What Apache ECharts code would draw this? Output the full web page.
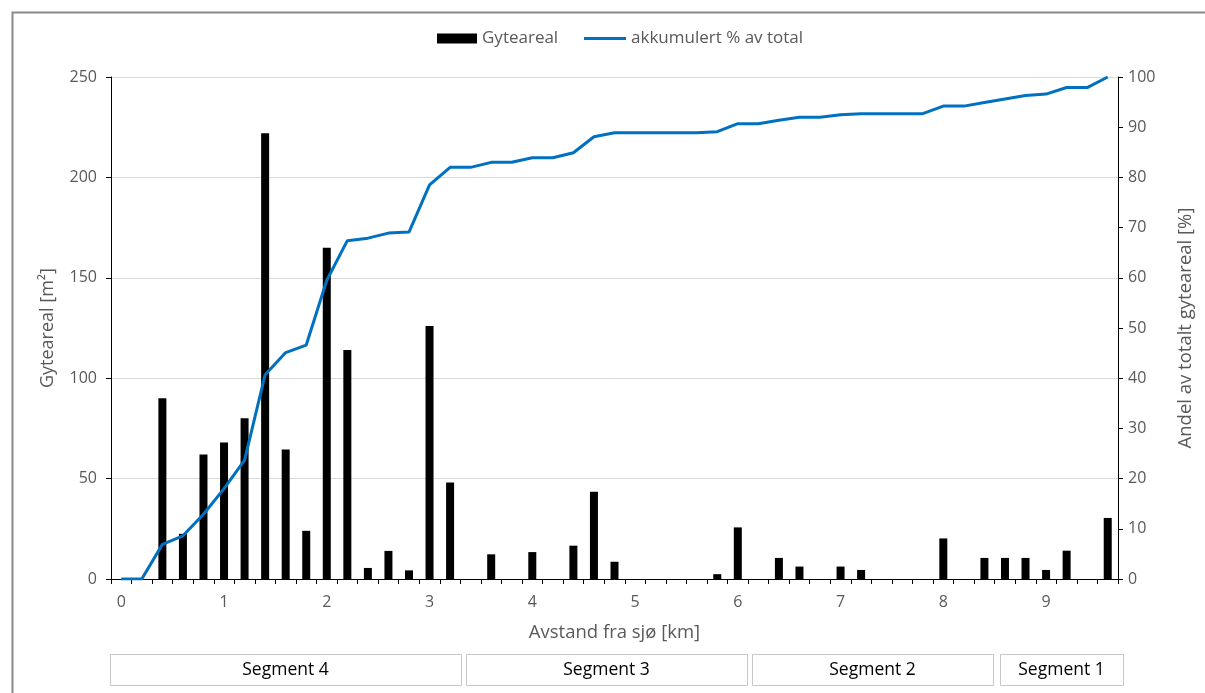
<!DOCTYPE html>
<html>
<head>
<meta charset="utf-8">
<script src="https://cdn.jsdelivr.net/npm/echarts@6/dist/echarts.min.js"></script>
<style>
html,body{margin:0;padding:0;background:#fff;}
#chart{width:1205px;height:693px;}
</style>
</head>
<body>
<div id="chart"></div>
<script>
const categories = ['0','0.2','0.4','0.6','0.8','1','1.2','1.4','1.6','1.8',
  '2','2.2','2.4','2.6','2.8','3','3.2','3.4','3.6','3.8',
  '4','4.2','4.4','4.6','4.8','5','5.2','5.4','5.6','5.8',
  '6','6.2','6.4','6.6','6.8','7','7.2','7.4','7.6','7.8',
  '8','8.2','8.4','8.6','8.8','9','9.2','9.4','9.6'];
const gyteareal = [0, 0, 90, 22.5, 62,
  68, 80, 222, 64.5, 24,
  165, 114, 5.5, 14, 4.3,
  126, 48, 0, 12.3, 0,
  13.4, 0, 16.6, 43.4, 8.6,
  0, 0, 0, 0, 2.4,
  25.7, 0, 10.5, 6.2, 0,
  6.2, 4.5, 0, 0, 0,
  20.2, 0, 10.5, 10.5, 10.5,
  4.5, 14.1, 0, 30.4];
const akkumulert = [0, 0, 6.9, 8.6, 12.9,
  18.0, 23.7, 40.7, 45.1, 46.6,
  59.5, 67.4, 67.9, 68.9, 69.1,
  78.5, 82.0, 82.0, 83.0, 83.0,
  83.9, 83.9, 84.9, 88.1, 88.9,
  88.9, 88.9, 88.9, 88.9, 89.1,
  90.7, 90.7, 91.4, 92.0, 92.0,
  92.5, 92.7, 92.7, 92.7, 92.7,
  94.2, 94.2, 94.9, 95.6, 96.3,
  96.6, 97.9, 97.9, 100];
const segmentNames = ['Segment 4', 'Segment 3', 'Segment 2', 'Segment 1'];
const seriesNames = ['Gyteareal', 'akkumulert % av total'];
const leftAxisName = 'Gyteareal [m²]';
const rightAxisName = 'Andel av totalt gyteareal [%]';
const xAxisName = 'Avstand fra sjø [km]';

const FONT = 'Open Sans';
const GREY = '#595959';
const segBoxes = [[110, 351], [466, 281], [752, 241], [1000, 123]];

const chart = echarts.init(document.getElementById('chart'), null, {renderer: 'canvas'});
const graphics = [{
  type: 'rect', left: 10, top: 10, silent: true,
  shape: {x: 0, y: 0, width: 1210, height: 700},
  style: {fill: 'none', stroke: '#8a8a8a', lineWidth: 2}
}];
segmentNames.forEach((n, i) => {
  const [x, w] = segBoxes[i];
  graphics.push({
    type: 'rect', silent: true,
    shape: {x: x + 0.5, y: 654.5, width: w, height: 31},
    style: {fill: '#fff', stroke: '#c8c8c8', lineWidth: 1}
  });
  graphics.push({
    type: 'text', silent: true,
    x: x + w / 2, y: 670,
    style: {text: n, fill: '#000', font: '17.5px "' + FONT + '"', align: 'center', verticalAlign: 'middle'}
  });
});

const legendText = {color: GREY, fontSize: 17, fontFamily: FONT};
chart.setOption({
  animation: false,
  backgroundColor: '#fff',
  textStyle: {fontFamily: FONT},
  legend: [{
    top: 25, left: 432,
    itemWidth: 40, itemHeight: 10,
    textStyle: legendText,
    data: [{name: seriesNames[0], icon: 'rect'}]
  }, {
    top: 25, left: 579,
    itemWidth: 42, itemHeight: 3,
    textStyle: legendText,
    data: [{name: seriesNames[1], icon: 'rect'}]
  }],
  grid: {left: 111, right: 87, top: 77, bottom: 114, containLabel: false},
  xAxis: {
    type: 'category',
    data: categories,
    boundaryGap: true,
    name: xAxisName,
    nameLocation: 'middle',
    nameGap: 44,
    nameTextStyle: {color: GREY, fontSize: 18.5, fontFamily: FONT},
    axisLine: {lineStyle: {color: '#000', width: 1}},
    axisTick: {show: true, interval: 0, length: 5, lineStyle: {color: '#000'}},
    axisLabel: {
      interval: (i) => i % 5 === 0,
      color: GREY, fontSize: 16, margin: 15, fontFamily: FONT,
      formatter: (v) => String(Math.round(parseFloat(v)))
    },
    splitLine: {show: false}
  },
  yAxis: [{
    type: 'value', min: 0, max: 250, interval: 50,
    name: leftAxisName, nameLocation: 'middle', nameGap: 54,
    nameRotate: 90,
    nameTextStyle: {color: GREY, fontSize: 18, fontFamily: FONT},
    axisLine: {show: true, lineStyle: {color: '#000'}},
    axisTick: {show: true, length: 5, lineStyle: {color: '#000'}},
    axisLabel: {color: GREY, fontSize: 16, margin: 14, fontFamily: FONT},
    splitLine: {show: true, lineStyle: {color: '#d9d9d9', width: 1}}
  }, {
    type: 'value', min: 0, max: 100, interval: 10,
    name: rightAxisName, nameLocation: 'middle', nameGap: 58,
    nameRotate: 90,
    nameTextStyle: {color: GREY, fontSize: 18.5, fontFamily: FONT},
    axisLine: {show: true, lineStyle: {color: '#000'}},
    axisTick: {show: true, length: 5, lineStyle: {color: '#000'}},
    axisLabel: {color: GREY, fontSize: 16, margin: 10, fontFamily: FONT},
    splitLine: {show: false}
  }],
  series: [{
    name: seriesNames[0], type: 'bar', data: gyteareal,
    yAxisIndex: 0, barWidth: 8,
    itemStyle: {color: '#000'}
  }, {
    name: seriesNames[1], type: 'line', data: akkumulert,
    yAxisIndex: 1, symbol: 'none', showSymbol: false,
    lineStyle: {color: '#0070C0', width: 3},
    itemStyle: {color: '#0070C0'}
  }],
  graphic: graphics
});
</script>
</body>
</html>
